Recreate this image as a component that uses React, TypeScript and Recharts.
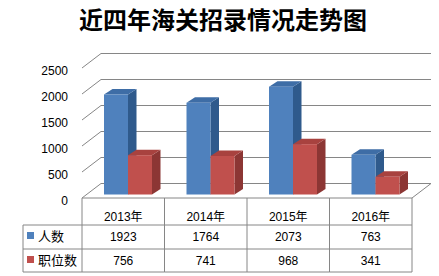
// 近四年海关招录情况走势图 - 3D 柱状图 + 数据表
import { BarChart, Bar, XAxis, YAxis, CartesianGrid } from 'recharts'

// ---------- data ----------
const years = ['2013年', '2014年', '2015年', '2016年']
const renShu = [1923, 1764, 2073, 763]
const zhiWeiShu = [756, 741, 968, 341]
const yTicks = [0, 500, 1000, 1500, 2000, 2500]

const seriesNames = ['人数', '职位数']

// ---------- layout ----------
const W = 439
const H = 276
const PLOT_LEFT = 82
const PLOT_RIGHT = 412
const PLOT_TOP = 68
const FLOOR_Y = 198
const WALL_DX = 19
const WALL_DY = 14.5
const BAR_SHIFT_X = 5
const BAR_SHIFT_Y = 3.5
const BOX_DX = 8.5
const BOX_DY = 5.5
const TABLE_LEFT = 23
const ROW_BOTTOMS = [225, 249, 272]
const LINE = '#868686'
const NUM_FONT = '"Liberation Sans", Arial, "Noto Sans CJK SC", sans-serif'
const CJK_FONT = '"Noto Sans CJK SC", sans-serif'

const colors = {
  blue: { front: '#4F81BD', side: '#2F5A8C', top: '#3E6DA6' },
  red: { front: '#C0504D', side: '#8C3634', top: '#A8423F' },
}

const chartData = years.map((year, i) => ({
  year,
  renShu: renShu[i],
  zhiWeiShu: zhiWeiShu[i],
}))

// ---------- 3D wall gridlines ----------
function WallLine(props: any) {
  const { x1, x2, y1 } = props
  const by = y1 - WALL_DY
  let d = `M${x1},${y1}L${x1 + WALL_DX},${by}L${x2 + WALL_DX},${by}`
  if (Math.abs(y1 - FLOOR_Y) < 1) {
    // floor: front edge + right edge
    d += `M${x1},${y1}L${x2},${y1}L${x2 + WALL_DX},${by}`
  }
  return <path key={props.key} d={d} stroke={LINE} strokeWidth={1} fill="none" />
}

// ---------- 3D box bar ----------
function makeBox(c: { front: string; side: string; top: string }) {
  return function Box(props: any) {
    const { x, y, width, height } = props
    if (!height || height <= 0) return null
    const x0 = x + BAR_SHIFT_X
    const y0 = y - BAR_SHIFT_Y
    const x1 = x0 + width
    const y1 = y0 + height
    return (
      <g>
        <polygon
          points={`${x1},${y0} ${x1 + BOX_DX},${y0 - BOX_DY} ${x1 + BOX_DX},${y1 - BOX_DY} ${x1},${y1}`}
          fill={c.side}
        />
        <polygon
          points={`${x0},${y0} ${x0 + BOX_DX},${y0 - BOX_DY} ${x1 + BOX_DX},${y0 - BOX_DY} ${x1},${y0}`}
          fill={c.top}
        />
        <rect x={x0} y={y0} width={width} height={height} fill={c.front} />
      </g>
    )
  }
}

// ---------- y axis tick ----------
function YTick(props: any) {
  const { x, y, payload } = props
  return (
    <text x={x} y={y + 3} dy="0.35em" textAnchor="end" fontSize={12} fontFamily={NUM_FONT} fill="#000">
      {payload.value}
    </text>
  )
}

// ---------- data table (drawn per x-axis tick) ----------
const COL_W = (PLOT_RIGHT - PLOT_LEFT) / years.length

function TableColumn(props: any) {
  const { x, index } = props
  const left = x - COL_W / 2
  const right = x + COL_W / 2
  const [r1, r2, r3] = ROW_BOTTOMS
  return (
    <g>
      <line x1={left} y1={FLOOR_Y} x2={left} y2={r3} stroke={LINE} />
      {index === years.length - 1 && (
        <line x1={right} y1={FLOOR_Y} x2={right} y2={r3} stroke={LINE} />
      )}
      {ROW_BOTTOMS.map((ry) => (
        <line key={ry} x1={left} y1={ry} x2={right} y2={ry} stroke={LINE} />
      ))}
      <text x={x} y={217} dy="0.35em" textAnchor="middle" fontSize={12} fontFamily={NUM_FONT} fill="#000">
        {years[index]}
      </text>
      <text x={x} y={237} dy="0.35em" textAnchor="middle" fontSize={12} fontFamily={NUM_FONT} fill="#000">
        {renShu[index]}
      </text>
      <text x={x} y={261} dy="0.35em" textAnchor="middle" fontSize={12} fontFamily={NUM_FONT} fill="#000">
        {zhiWeiShu[index]}
      </text>
      {index === 0 && (
        <g>
          <line x1={TABLE_LEFT} y1={r1} x2={TABLE_LEFT} y2={r3} stroke={LINE} />
          <line x1={TABLE_LEFT} y1={r1} x2={left} y2={r1} stroke={LINE} />
          <line x1={TABLE_LEFT} y1={r2} x2={left} y2={r2} stroke={LINE} />
          <line x1={TABLE_LEFT} y1={r3} x2={left} y2={r3} stroke={LINE} />
          <rect x={27} y={232} width={7} height={7} fill={colors.blue.front} />
          <text x={38} y={236} dy="0.35em" fontSize={13} fontFamily={CJK_FONT} fill="#000">
            {seriesNames[0]}
          </text>
          <rect x={27} y={256} width={7} height={7} fill={colors.red.front} />
          <text x={38} y={260} dy="0.35em" fontSize={13} fontFamily={CJK_FONT} fill="#000">
            {seriesNames[1]}
          </text>
        </g>
      )}
    </g>
  )
}

export default function App() {
  return (
    <div style={{ position: 'absolute', left: 0, top: 0, width: W, height: H, background: '#fff' }}>
      <div
        style={{
          position: 'absolute',
          left: 0,
          top: 4,
          width: 446,
          textAlign: 'center',
          fontFamily: CJK_FONT,
          fontWeight: 700,
          fontSize: 24,
          lineHeight: '30px',
          color: '#000',
        }}
      >
        近四年海关招录情况走势图
      </div>
      <div style={{ position: 'absolute', left: 0, top: 0 }}>
        <BarChart
          width={W}
          height={H}
          data={chartData}
          margin={{ top: PLOT_TOP, right: W - PLOT_RIGHT, bottom: 0, left: 22 }}
          barGap={0}
          barSize={24}
        >
          <CartesianGrid vertical={false} horizontal={WallLine} />
          <XAxis
            dataKey="year"
            axisLine={false}
            tickLine={false}
            interval={0}
            height={H - FLOOR_Y}
            tick={TableColumn}
          />
          <YAxis
            domain={[0, 2500]}
            ticks={yTicks}
            axisLine={false}
            tickLine={false}
            width={60}
            tickMargin={8}
            tick={YTick}
          />
          <Bar dataKey="renShu" name={seriesNames[0]} shape={makeBox(colors.blue)} isAnimationActive={false} />
          <Bar dataKey="zhiWeiShu" name={seriesNames[1]} shape={makeBox(colors.red)} isAnimationActive={false} />
        </BarChart>
      </div>
    </div>
  )
}
